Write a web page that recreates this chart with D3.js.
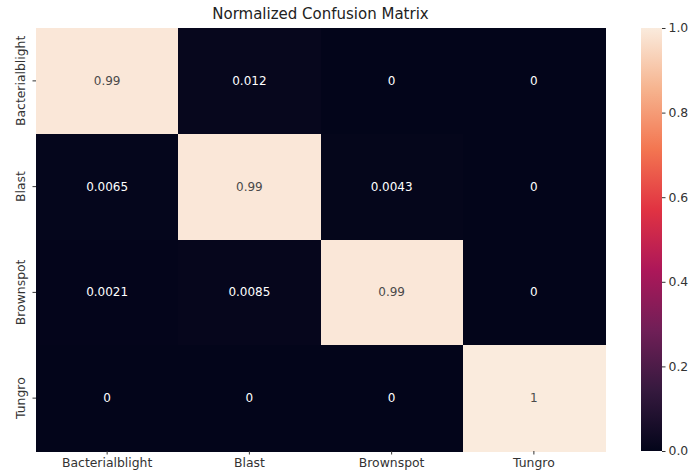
<!DOCTYPE html>
<html><head><meta charset="utf-8">
<script src="https://cdn.jsdelivr.net/npm/d3@7"></script>
<style>body{margin:0;background:#fff;} text{font-family:"DejaVu Sans",sans-serif;}</style>
</head><body>
<svg id="c" width="693" height="475"></svg>
<script>
const classes = ["Bacterialblight", "Blast", "Brownspot", "Tungro"];
const matrix = [
  [0.99, 0.012, 0, 0],
  [0.0065, 0.99, 0.0043, 0],
  [0.0021, 0.0085, 0.99, 0],
  [0, 0, 0, 1]
];
const labels = [
  ["0.99", "0.012", "0", "0"],
  ["0.0065", "0.99", "0.0043", "0"],
  ["0.0021", "0.0085", "0.99", "0"],
  ["0", "0", "0", "1"]
];
const cbarTicks = [0.0, 0.2, 0.4, 0.6, 0.8, 1.0];
const title = "Normalized Confusion Matrix";
const rocketStops = [0, 1/7, 2/7, 3/7, 4/7, 5/7, 6/7, 1];
const rocketColors = ["#03051a", "#35193e", "#701f57", "#ad1759", "#e13342", "#f37651", "#f6b48f", "#faebdd"];

const svg = d3.select("#c");
const L = 36, R = 605, T = 28, B = 451;
const color = d3.scaleLinear().domain(rocketStops).range(rocketColors).interpolate(d3.interpolateRgb);
const x = d3.scaleBand().domain(classes).range([L, R]);
const y = d3.scaleBand().domain(classes).range([T, B]);

const cells = [];
matrix.forEach((row, i) => row.forEach((v, j) => cells.push({r: classes[i], c: classes[j], v, t: labels[i][j]})));

svg.append("g").attr("shape-rendering", "crispEdges").selectAll("rect").data(cells).join("rect")
  .attr("x", d => x(d.c)).attr("y", d => y(d.r))
  .attr("width", x.bandwidth() + 0.5).attr("height", y.bandwidth() + 0.5)
  .attr("fill", d => color(d.v));

svg.append("g").selectAll("text").data(cells).join("text")
  .attr("x", d => x(d.c) + x.bandwidth() / 2).attr("y", d => y(d.r) + y.bandwidth() / 2)
  .attr("text-anchor", "middle").attr("dominant-baseline", "central")
  .attr("font-size", 12)
  .attr("fill", d => d.v > 0.5 ? "#4a4a4a" : "#fff")
  .text(d => d.t);

// axes
const xa = svg.append("g").attr("transform", `translate(0,${B})`)
  .call(d3.axisBottom(x).tickSize(3.5).tickPadding(4));
xa.select(".domain").remove();
xa.selectAll("line").attr("stroke", "#333");
xa.selectAll("text").attr("font-size", 12.4).attr("fill", "#333").style("font-family", "DejaVu Sans");

const ya = svg.append("g").attr("transform", `translate(${L},0)`)
  .call(d3.axisLeft(y).tickSize(3.5).tickPadding(4));
ya.select(".domain").remove();
ya.selectAll("line").attr("stroke", "#333");
ya.selectAll("text").attr("font-size", 12.4).attr("fill", "#333").style("font-family", "DejaVu Sans")
  .attr("text-anchor", "middle").attr("x", 0).attr("dy", 0)
  .attr("transform", "translate(-11,0) rotate(-90)");

// colorbar
const CL = 641, CR = 662;
const cy = d3.scaleLinear().domain([0, 1]).range([B, T]);
const defs = svg.append("defs");
const grad = defs.append("linearGradient").attr("id", "g").attr("x1", 0).attr("y1", 1).attr("x2", 0).attr("y2", 0);
grad.selectAll("stop").data(rocketStops).join("stop")
  .attr("offset", d => d).attr("stop-color", (d, i) => rocketColors[i]);
svg.append("rect").attr("x", CL).attr("y", T).attr("width", CR - CL).attr("height", B - T).attr("fill", "url(#g)");
const ca = svg.append("g").attr("transform", `translate(${CR},0)`)
  .call(d3.axisRight(cy).tickValues(cbarTicks).tickFormat(d3.format(".1f")).tickSize(3.5).tickPadding(3));
ca.select(".domain").remove();
ca.selectAll("line").attr("stroke", "#333");
ca.selectAll("text").attr("font-size", 12.4).attr("fill", "#333").style("font-family", "DejaVu Sans");

svg.append("text").attr("x", (L + R) / 2).attr("y", 19).attr("text-anchor", "middle")
  .attr("font-size", 15).attr("fill", "#222").text(title);
</script>
</body></html>
